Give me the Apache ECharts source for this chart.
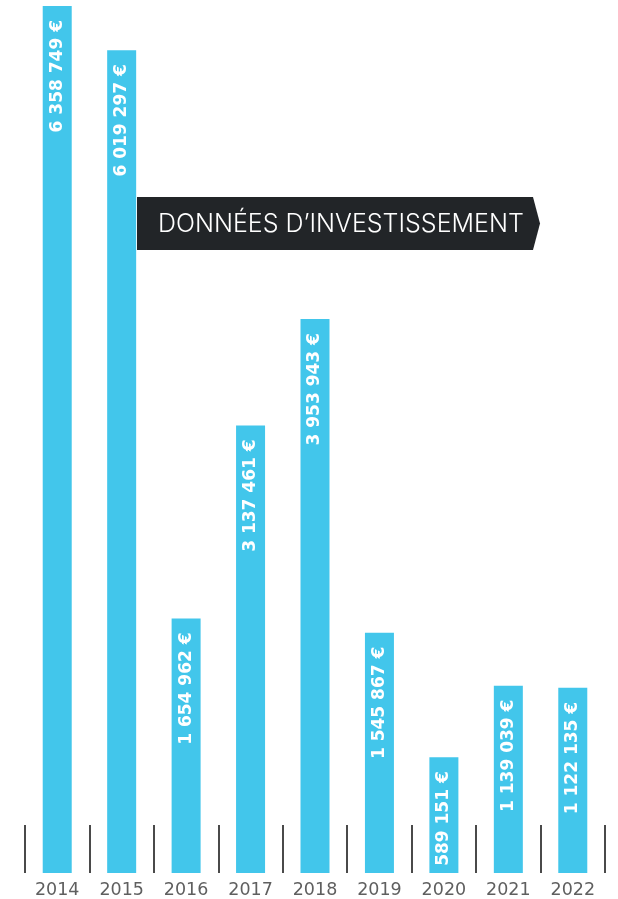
<!DOCTYPE html>
<html>
<head>
<meta charset="utf-8">
<script src="https://cdn.jsdelivr.net/npm/echarts@6/dist/echarts.min.js"></script>
<style>
  html, body { margin: 0; padding: 0; background: #ffffff; }
  #chart { width: 618px; height: 899px; }
</style>
</head>
<body>
<div id="chart"></div>
<script>
var years = ['2014', '2015', '2016', '2017', '2018', '2019', '2020', '2021', '2022'];
var amounts = [6358749, 6019297, 1654962, 3137461, 3953943, 1545867, 589151, 1139039, 1122135];
var title = 'DONNÉES D\u2019INVESTISSEMENT';

function formatEuro(v) {
  return String(v).replace(/\B(?=(\d{3})+(?!\d))/g, ' ') + ' \u20ac';
}

var chart = echarts.init(document.getElementById('chart'));
chart.setOption({
  animation: false,
  backgroundColor: '#ffffff',
  grid: { left: 25, right: 13, top: 6, bottom: 25, containLabel: false },
  xAxis: {
    type: 'category',
    data: years,
    boundaryGap: true,
    axisLine: { show: false, onZero: false },
    axisTick: { show: true, inside: true, length: 48, alignWithLabel: false,
      lineStyle: { color: '#4a4a4a', width: 2 } },
    axisLabel: { color: '#5f5f5f', fontFamily: 'DejaVu Sans', fontSize: 17.5, margin: 8 }
  },
  yAxis: {
    type: 'value',
    min: -300000,
    max: 6358749,
    startValue: -300000,
    show: false,
    splitLine: { show: false }
  },
  series: [{
    type: 'bar',
    data: amounts,
    barWidth: 29,
    itemStyle: { color: '#42C6EB' },
    label: {
      show: true,
      position: 'insideTop',
      rotate: 90,
      align: 'right',
      verticalAlign: 'middle',
      distance: 14,
      color: '#ffffff',
      fontFamily: 'DejaVu Sans',
      fontWeight: 'bold',
      fontSize: 17,
      formatter: function (p) { return formatEuro(p.value); }
    }
  }],
  graphic: [{
    type: 'polygon',
    shape: { points: [[137, 197], [533, 197], [540, 223.5], [533, 250], [137, 250]] },
    style: { fill: '#222528' },
    z: 10
  }, {
    type: 'text',
    x: 158,
    y: 224,
    style: {
      text: title,
      fill: '#ffffff',
      font: '300 25px Inter',
      verticalAlign: 'middle',
      align: 'left'
    },
    z: 11
  }]
});
</script>
</body>
</html>
